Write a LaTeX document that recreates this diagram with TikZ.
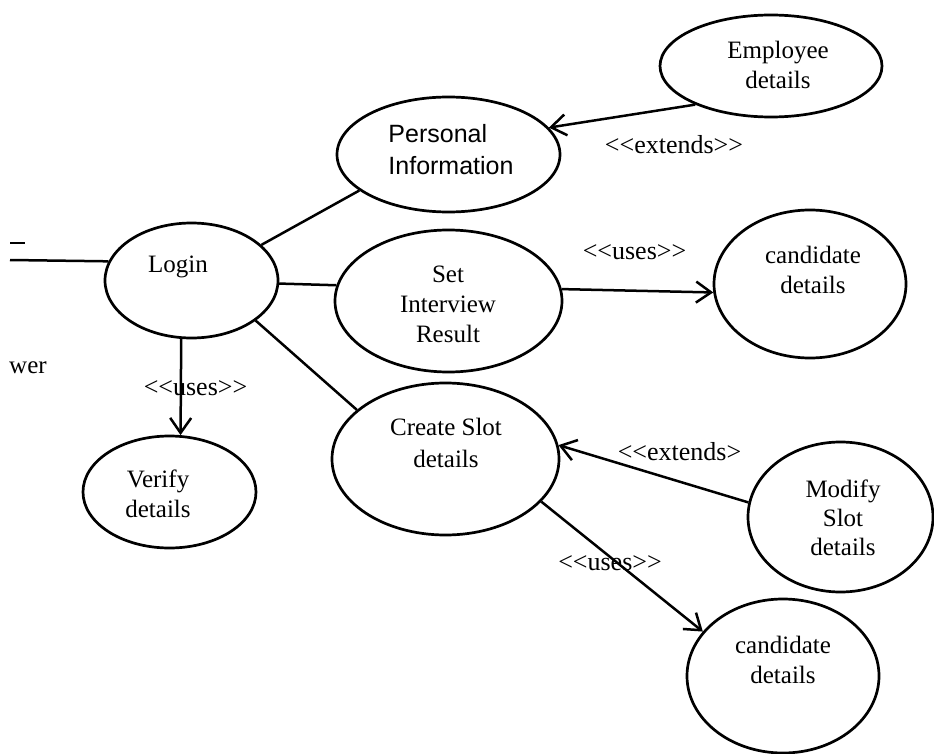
\documentclass[tikz,border=0pt]{standalone}
\usepackage{fontspec}
\setmainfont{Liberation Serif}
\newfontfamily\sansarial{Liberation Sans}
\usetikzlibrary{shapes.geometric,arrows.meta}

% stereotype text such as <<uses>>; the kerns keep << and >> from turning into guillemets
\newcommand\stereo[2][>]{<\kern0pt<#2>\kern0pt#1}

\begin{document}
\begin{tikzpicture}[x=1pt,y=-1pt,
  uc/.style 2 args={draw, ellipse, line width=2.7pt, inner sep=0pt,
                    minimum width=#1pt, minimum height=#2pt},
  uctext/.style={align=center, inner sep=0pt, font=\fontsize{25}{30}\selectfont},
  link/.style={line width=2.5pt},
  dep/.style={link, -{Straight Barb[length=15pt,width=21pt]}},
  stereotype/.style={anchor=base, inner sep=0pt, font=\fontsize{26}{30}\selectfont}]

\useasboundingbox (0,0) rectangle (934,754);

% use cases
\node[uc={222}{102}] (emp)    at (771,66)    {};
\node[uc={223}{115}] (pers)   at (448.5,154.5) {};
\node[uc={173}{115}] (login)  at (191.5,280.5) {};
\node[uc={227}{142}] (setres) at (448.5,301) {};
\node[uc={192}{148}] (candA)  at (810,284)   {};
\node[uc={173}{112}] (verify) at (169.5,492) {};
\node[uc={227}{152}] (create) at (445.5,459) {};
\node[uc={185}{150}] (modify) at (840.5,517) {};
\node[uc={192}{154}] (candB)  at (783,676)   {};

% use case names
\node[uctext] (empT)    at (778,65)    {Employee\\details};
\node[uctext, align=left, font=\sansarial\fontsize{25}{32}\selectfont]
                (persT)   at (451,150)   {Personal\\Information};
\node[uctext] (loginT)  at (178,267)   {Login};
\node[uctext] (setresT) at (448,304)   {Set\\Interview\\Result};
\node[uctext] (candAT)  at (813,269.5) {candidate\\details};
\node[uctext] (verifyT) at (158,493.5) {Verify\\details};
\node[uctext, font=\fontsize{25}{32}\selectfont]
                (createT) at (446,442.5) {Create Slot\\details};
\node[uctext, font=\fontsize{25}{29}\selectfont]
                (modifyT) at (843,517.5) {Modify\\Slot\\details};
\node[uctext] (candBT)  at (783,659.5) {candidate\\details};

% actor side, cut at the left edge
\coordinate (actor) at (10,260);
\coordinate (tickA) at (10,243);
\coordinate (tickB) at (25,243);
\draw[link] (tickA) -- (tickB);
\draw[link] (actor) -- (login.167.3);
\node[anchor=base west, inner sep=0pt, font=\fontsize{25}{30}\selectfont] (actorT) at (9,373) {wer};

% associations
\draw[link] (login.27.4)  -- (pers.202.5);
\draw[link] (login.-2.3)  -- (setres.172.3);
\draw[link] (login.-32)   -- (create.151.1);

% dependencies
\draw[dep] (login.260.3)  -- (verify.79.7);
\draw[dep] (emp.207.5)    -- (pers.15.8);
\draw[dep] (setres.6)     -- (candA.185.2);
\draw[dep] (modify.171.2) -- (create.7.75);
\draw[dep] (create.-24)   -- (candB.151.7);

% stereotypes
\node[stereotype] (extA) at (674,154)   {\stereo{extends}};
\node[stereotype] (useA) at (634.5,259) {\stereo{uses}};
\node[stereotype] (useB) at (195.5,395) {\stereo{uses}};
\node[stereotype] (extB) at (679.5,460) {\stereo[]{extends}};
\node[stereotype] (useC) at (610,570)   {\stereo{uses}};
\end{tikzpicture}
\end{document}
